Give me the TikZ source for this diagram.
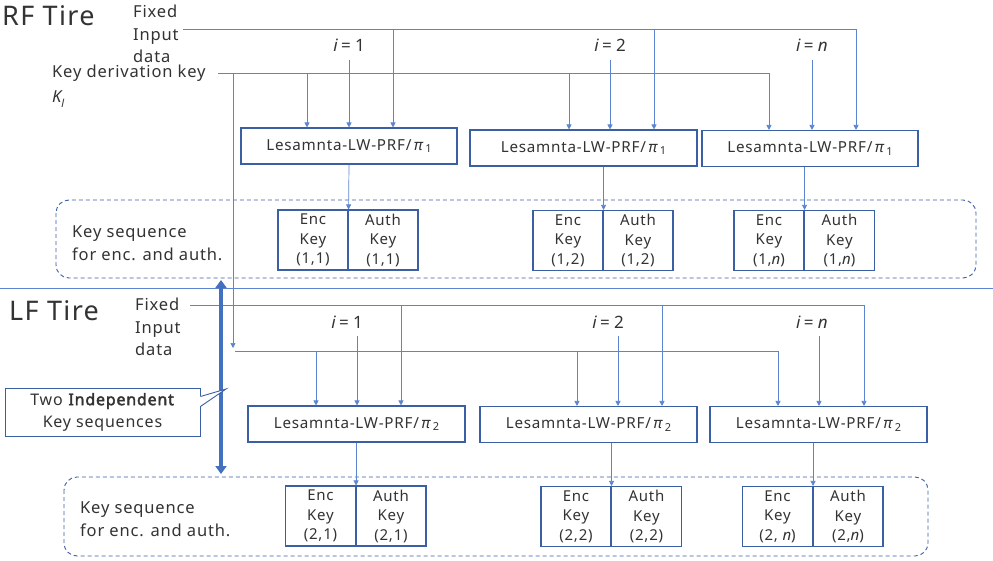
\documentclass[tikz,border=0pt]{standalone}
\usepackage{fontspec}
\setmainfont{Noto Sans}[LetterSpace=5, BoldFont={Noto Sans}, BoldFeatures={FakeBold=2.5}]
\usetikzlibrary{arrows.meta}
\definecolor{lineblue}{HTML}{5B85D0}
\definecolor{boxblue}{HTML}{3A5FA5}
\definecolor{txt}{HTML}{333333}
\definecolor{bigblue}{HTML}{4470C0}
\tikzset{
  conn/.style={draw=lineblue, line width=0.7pt},
  arr/.style={conn, -{Triangle[length=5pt,width=5pt]}},
  prf/.style={draw=boxblue, line width=1.1pt, minimum height=36pt, inner sep=0pt, font=\fontsize{15.2}{17}\selectfont},
  keyb/.style={draw=boxblue, line width=1.1pt, minimum width=70pt, minimum height=60pt, inner sep=0pt, align=center, font=\fontsize{15}{19.5}\selectfont},
  dashb/.style={draw=boxblue, line width=0.9pt, dash pattern=on 4pt off 3pt, rounded corners=13pt},
  lbl/.style={inner sep=0pt, font=\fontsize{16.5}{22.5}\selectfont},
  ilbl/.style={inner sep=0pt, font=\fontsize{17}{20}\selectfont},
  title/.style={inner sep=0pt, anchor=west, font=\fontsize{27}{28}\selectfont},
}
\newcommand{\prfname}[1]{Lesamnta-LW-PRF/\,{\itshape π}\,\raisebox{-0.35ex}{\fontsize{11}{12}\selectfont #1}}
\newcommand{\ieq}[1]{{\itshape i}\hspace{0.2em}{=}\hspace{0.25em}#1}
\begin{document}
\begin{tikzpicture}[x=1pt,y=-1pt, every node/.style={text=txt}]
\useasboundingbox[fill=white] (0,0) rectangle (993,560);

% ---------------- RF Tire ----------------
\node[title] (rf) at (2,16) {RF Tire};
\node[lbl, anchor=north west, align=left] (fixr) at (133,5) {Fixed\\Input\\data};
\node[lbl, anchor=west] (kdk) at (52,73) {Key derivation key};
\node[lbl, anchor=west] (kl) at (52,99) {{\itshape K}\raisebox{-0.5ex}{\fontsize{11}{12}\selectfont\itshape l}};

\node[ilbl] (i11) at (349,45) {\ieq{1}};
\node[ilbl] (i12) at (610,45) {\ieq{2}};
\node[ilbl] (i13) at (812,45) {\ieq{{\itshape n}}};

\node[prf, minimum width=216pt] (p11) at (349,146) {\prfname{1}};
\node[prf, minimum width=227pt] (p12) at (583.5,148) {\prfname{1}};
\node[prf, minimum width=216pt] (p13) at (810,148.5) {\prfname{1}};

\draw[dashb] (56,200) rectangle (976,278);
\node[lbl, anchor=west, align=left] (ks1) at (72,243) {Key sequence\\for enc. and auth.};

\node[keyb] (e11) at (313,240) {Enc\\Key\\(1,1)};
\node[keyb] (a11) at (383,240) {Auth\\Key\\(1,1)};
\node[keyb] (e12) at (568,240.5) {Enc\\Key\\(1,2)};
\node[keyb] (a12) at (638,240.5) {Auth\\Key\\(1,2)};
\node[keyb] (e13) at (769,240.5) {Enc\\Key\\(1,{\itshape n})};
\node[keyb] (a13) at (839.5,240.5) {Auth\\Key\\(1,{\itshape n})};

% fixed input lines (RF)
\coordinate (fr0) at (183,29);
\coordinate (fr1) at (393,29);
\coordinate (fr2) at (654,29);
\coordinate (fr3) at (856,29);
\draw[conn] (fr0) -- (fr3);
\draw[arr] (fr1) -- (fr1 |- p11.north);
\draw[arr] (fr2) -- (fr2 |- p12.north);
\draw[arr] (fr3) -- (fr3 |- p13.north);

% key derivation lines (RF)
\coordinate (kr0) at (218,73);
\coordinate (kr1) at (307,73);
\coordinate (kr2) at (569,73);
\coordinate (kr3) at (769,73);
\coordinate (kdown) at (233,73);
\draw[conn] (kr0) -- (kr3);
\draw[arr] (kr1) -- (kr1 |- p11.north);
\draw[arr] (kr2) -- (kr2 |- p12.north);
\draw[arr] (kr3) -- (kr3 |- p13.north);

% i lines (RF)
\coordinate (ir1) at (349,60);
\coordinate (ir2) at (610,60);
\coordinate (ir3) at (812,60);
\draw[arr] (ir1) -- (ir1 |- p11.north);
\draw[arr] (ir2) -- (ir2 |- p12.north);
\draw[arr] (ir3) -- (ir3 |- p13.north);

% outputs (RF)
\draw[arr] (p11.south) -- (e11.north east);
\draw[arr] (p12.south -| e12.north east) -- (e12.north east);
\draw[arr] (p13.south -| e13.north east) -- (e13.north east);

% separator
\coordinate (sepL) at (0,288);
\coordinate (sepR) at (993,288);
\draw[conn] (sepL) -- (sepR);

% ---------------- LF Tire ----------------
\node[title] (lf) at (9,311) {LF Tire};
\node[lbl, anchor=north west, align=left] (fixl) at (135,298) {Fixed\\Input\\data};

\node[ilbl] (i21) at (347,322) {\ieq{1}};
\node[ilbl] (i22) at (608,322) {\ieq{2}};
\node[ilbl] (i23) at (812,322) {\ieq{{\itshape n}}};

\node[prf, minimum width=217pt] (p21) at (356.5,424) {\prfname{2}};
\node[prf, minimum width=217pt] (p22) at (588.5,424.5) {\prfname{2}};
\node[prf, minimum width=217pt] (p23) at (818.5,424.5) {\prfname{2}};

\draw[dashb] (64,477) rectangle (928,556);
\node[lbl, anchor=west, align=left] (ks2) at (80,519) {Key sequence\\for enc. and auth.};

\node[keyb] (e21) at (320.5,516) {Enc\\Key\\(2,1)};
\node[keyb] (a21) at (391,516) {Auth\\Key\\(2,1)};
\node[keyb] (e22) at (576,516.5) {Enc\\Key\\(2,2)};
\node[keyb] (a22) at (646.5,516.5) {Auth\\Key\\(2,2)};
\node[keyb] (e23) at (777.5,516.5) {Enc\\Key\\(2, {\itshape n})};
\node[keyb] (a23) at (848,516.5) {Auth\\Key\\(2,{\itshape n})};

% fixed input lines (LF)
\coordinate (fl0) at (190,305);
\coordinate (fl1) at (401,305);
\coordinate (fl2) at (662,305);
\coordinate (fl3) at (864,305);
\draw[conn] (fl0) -- (fl3);
\draw[arr] (fl1) -- (fl1 |- p21.north);
\draw[arr] (fl2) -- (fl2 |- p22.north);
\draw[arr] (fl3) -- (fl3 |- p23.north);

% key derivation key brought down
\coordinate (kdend) at (233,348);
\draw[arr] (kdown) -- (kdend);
\coordinate (kl0) at (235,351);
\coordinate (kl1) at (316,351);
\coordinate (kl2) at (577,351);
\coordinate (kl3) at (778,351);
\draw[conn] (kl0) -- (kl3);
\draw[arr] (kl1) -- (kl1 |- p21.north);
\draw[arr] (kl2) -- (kl2 |- p22.north);
\draw[arr] (kl3) -- (kl3 |- p23.north);

% i lines (LF)
\coordinate (il1) at (357,336);
\coordinate (il2) at (618,336);
\coordinate (il3) at (819,336);
\draw[arr] (il1) -- (il1 |- p21.north);
\draw[arr] (il2) -- (il2 |- p22.north);
\draw[arr] (il3) -- (il3 |- p23.north);

% outputs (LF)
\draw[arr] (p21.south -| e21.north east) -- (e21.north east);
\draw[arr] (p22.south -| e22.north east) -- (e22.north east);
\draw[arr] (p23.south -| e23.north east) -- (e23.north east);

% ---------------- independence arrow and callout ----------------
\coordinate (dtop) at (221,280);
\coordinate (dbot) at (221,474);
\draw[draw=bigblue, line width=4pt, {Triangle[length=8pt,width=11pt]}-{Triangle[length=8pt,width=11pt]}] (dtop) -- (dbot);

\node[draw=boxblue, line width=0.9pt, fill=white, minimum width=195pt, minimum height=48pt, inner sep=0pt, align=center, font=\fontsize{16}{22}\selectfont] (co) at (102.5,412) {Two \textbf{Independent}\\Key sequences};
\coordinate (cotip) at (226,389);
\fill[white] ([xshift=-0.6pt]co.east |- 0,396.5) -- (cotip) -- ([xshift=-0.6pt]co.east |- 0,406.5) -- cycle;
\draw[draw=boxblue, line width=0.9pt] (co.east |- 0,396.5) -- (cotip) -- (co.east |- 0,406.5);
\end{tikzpicture}
\end{document}
